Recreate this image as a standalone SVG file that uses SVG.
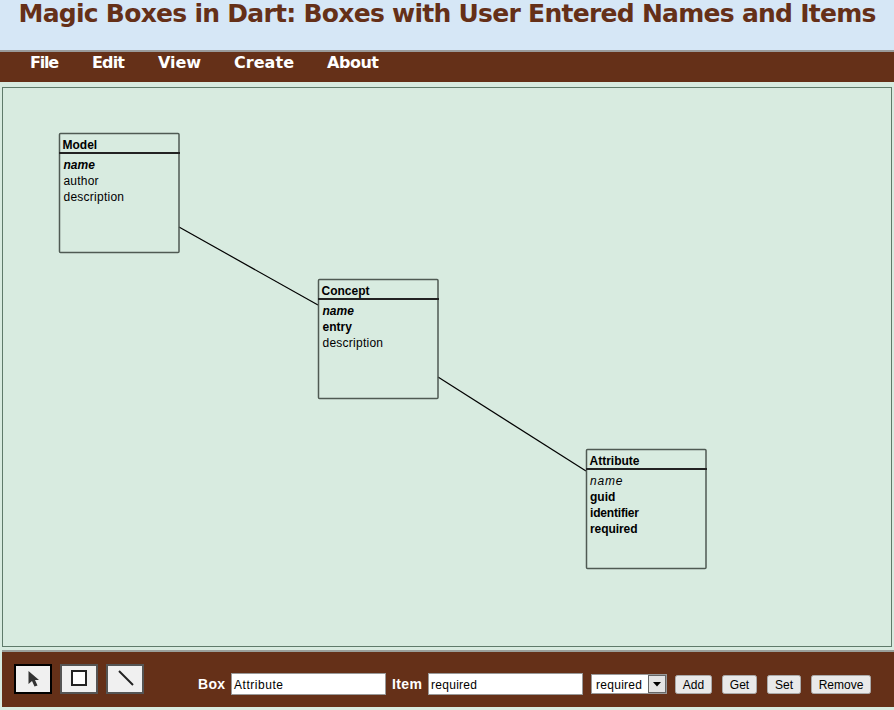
<svg xmlns="http://www.w3.org/2000/svg" width="894" height="710" viewBox="0 0 894 710">
<style>
text{font-family:"Liberation Sans",Arial,sans-serif}
.title{font-family:"DejaVu Sans",sans-serif;font-weight:bold;font-size:25px;fill:#653018}
.menu{font-family:"DejaVu Sans",sans-serif;font-weight:bold;font-size:16px;fill:#fff}
.box{fill:none;stroke:#4f5a53;stroke-width:1.5}
.sep{stroke:#222;stroke-width:2}
.hd{font-size:12px;font-weight:bold;fill:#000}
.it{font-size:12px;fill:#000}
.b{font-weight:bold}
.n{font-style:italic}
.lbl{font-size:14px;font-weight:bold;fill:#fff}
.inp{fill:#fff;stroke:#999;stroke-width:1}
.val{font-size:12px;fill:#000}
.btn{fill:#e9e9e9;stroke:#aaa;stroke-width:1}
.tool{fill:#f0f0f0}
.conn{stroke:#000;stroke-width:1.2;fill:none}
</style>
<rect width="894" height="710" fill="#d8ebe0"/>
<rect width="894" height="50" fill="#d6e7f6"/>
<text class="title" x="18.500" y="22" textLength="858" lengthAdjust="spacing">Magic Boxes in Dart: Boxes with User Entered Names and Items</text>
<rect y="50" width="894" height="2" fill="#9a9a9a"/>
<rect y="52" width="894" height="30" fill="#653018"/>
<g id="menu">
<text class="menu" x="30" y="67.500" textLength="29">File</text>
<text class="menu" x="92" y="67.500" textLength="33">Edit</text>
<text class="menu" x="158" y="67.500" textLength="43">View</text>
<text class="menu" x="234" y="67.500" textLength="60">Create</text>
<text class="menu" x="327" y="67.500" textLength="52">About</text>
</g>
<rect x="2.500" y="87.500" width="889" height="559" fill="#d8ebe0" stroke="#5f7a6a" stroke-width="1"/>
<g id="connectors">
<line class="conn" x1="179" y1="227" x2="318" y2="305"/>
<line class="conn" x1="438" y1="377" x2="586" y2="471"/>
</g>
<g id="box-model">
<rect class="box" x="59.500" y="133.500" width="119.500" height="119" rx="1"/>
<line class="sep" x1="59" y1="153" x2="180" y2="153"/>
<text class="hd" x="62.500" y="149">Model</text>
<text class="it b n" x="63.500" y="169">name</text>
<text class="it" x="63.500" y="185" textLength="35">author</text>
<text class="it" x="63.500" y="201" textLength="60.500">description</text>
</g>
<g id="box-concept">
<rect class="box" x="318.500" y="279.500" width="119.500" height="119" rx="1"/>
<line class="sep" x1="318" y1="299" x2="439" y2="299"/>
<text class="hd" x="321.500" y="295">Concept</text>
<text class="it b n" x="322.500" y="315">name</text>
<text class="it b" x="322.500" y="331">entry</text>
<text class="it" x="322.500" y="347" textLength="60.500">description</text>
</g>
<g id="box-attribute">
<rect class="box" x="586.500" y="449.500" width="119.500" height="119" rx="1"/>
<line class="sep" x1="586" y1="469" x2="707" y2="469"/>
<text class="hd" x="589.500" y="465">Attribute</text>
<text class="it n" x="590" y="485" textLength="32.500">name</text>
<text class="it b" x="590" y="501">guid</text>
<text class="it b" x="590" y="517" textLength="49">identifier</text>
<text class="it b" x="590" y="533" textLength="47.500">required</text>
</g>
<rect x="2" y="650" width="892" height="57" fill="#653018"/>
<rect x="2" y="650" width="892" height="2" fill="#9a9f9a"/>
<g id="tools">
<rect class="tool" x="15" y="665" width="36" height="28" stroke="#000" stroke-width="2"/>
<path d="M28.500 671 L28.500 684 L32 681 L34.500 686.500 L37.500 685.500 L35 680 L39 680 Z" fill="#333"/>
<rect class="tool" x="61" y="665" width="36" height="28" stroke="#555" stroke-width="2"/>
<rect x="72" y="671" width="14" height="14" fill="#fff" stroke="#222" stroke-width="2"/>
<rect class="tool" x="107" y="665" width="36" height="28" stroke="#555" stroke-width="2"/>
<line x1="119" y1="671" x2="133" y2="685" stroke="#222" stroke-width="2"/>
</g>
<g id="form">
<text class="lbl" x="198" y="689" textLength="27">Box</text>
<rect class="inp" x="231.500" y="673.500" width="154" height="21"/>
<text class="val" x="234" y="689" textLength="49">Attribute</text>
<text class="lbl" x="392" y="689" textLength="30">Item</text>
<rect class="inp" x="428.500" y="673.500" width="154" height="21"/>
<text class="val" x="431" y="689" textLength="46">required</text>
<rect class="inp" x="591.500" y="674.500" width="75" height="19"/>
<text class="val" x="596" y="689" textLength="46">required</text>
<rect x="648.500" y="675.500" width="17" height="17" fill="#e4e4e4" stroke="#666"/>
<path d="M653 682 L661 682 L657 686.500 Z" fill="#000"/>
<rect class="btn" x="675.500" y="675.500" width="36" height="18" rx="2"/>
<text class="val" x="693.500" y="689" text-anchor="middle">Add</text>
<rect class="btn" x="722.500" y="675.500" width="34" height="18" rx="2"/>
<text class="val" x="739.500" y="689" text-anchor="middle">Get</text>
<rect class="btn" x="767.500" y="675.500" width="33" height="18" rx="2"/>
<text class="val" x="784" y="689" text-anchor="middle">Set</text>
<rect class="btn" x="811.500" y="675.500" width="59" height="18" rx="2"/>
<text class="val" x="841" y="689" text-anchor="middle">Remove</text>
</g>
</svg>
